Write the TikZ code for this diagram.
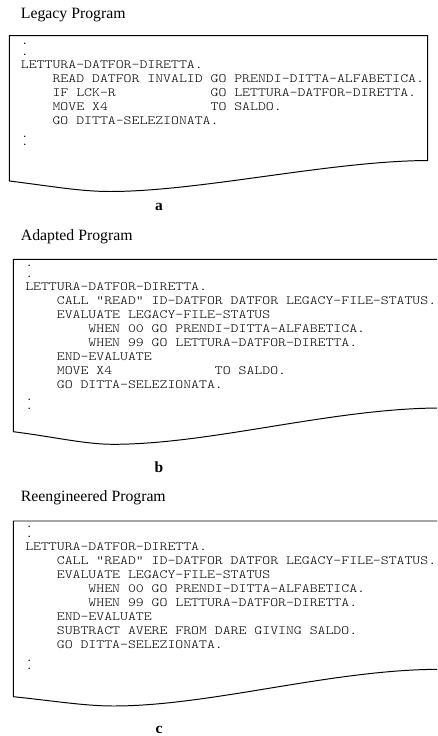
\documentclass[tikz,border=0pt]{standalone}
\usepackage{fontspec}
\setmainfont{Liberation Serif}
\newfontfamily\codefont{lmmonolt10-regular.otf}[FakeStretch=1.2]
\usepackage{tikz}
\newlength{\codecharwd}
\newcommand{\codesetup}{\codefont\fontsize{8.92}{9.96}\selectfont\frenchspacing\settowidth{\codecharwd}{M}\spaceskip=\codecharwd\relax}
\tikzset{
  progtitle/.style={anchor=base west, inner sep=0pt, font=\fontsize{11.2}{13}\selectfont},
  codetext/.style={anchor=base west, inner sep=0pt, font=\codesetup},
  panellabel/.style={anchor=base, inner sep=0pt, font=\fontsize{11}{13}\selectfont\bfseries},
  sheet/.style={line width=0.7pt, line join=miter}
}

\begin{document}
\begin{tikzpicture}[x=0.025cm, y=-0.025cm]
                    \useasboundingbox (0,0) rectangle (437,736);

                    % a
                    \node[progtitle] (legacytitle) at (20.7,18.3) {Legacy Program};
                    \draw[sheet] (9.3,35.7) -- (427.7,35.7) -- (427.7,160.5) .. controls (330,161) and (200,191.5) .. (110,191.5) .. controls (80,191.5) and (50,186) .. (9.3,181) -- cycle;
                    \node[codetext] (legacycode) at (20.7,44.7) {\begin{tabular}[t]{@{}l@{}}
                    .\\[-2.5pt]
                    .\\[-0.4pt]
                    LETTURA-DATFOR-DIRETTA.\\
                    ~~~~READ DATFOR INVALID GO PRENDI-DITTA-ALFABETICA.\\
                    ~~~~IF LCK-R~~~~~~~~~~~~GO LETTURA-DATFOR-DIRETTA.\\
                    ~~~~MOVE X4~~~~~~~~~~~~~TO SALDO.\\
                    ~~~~GO DITTA-SELEZIONATA.\\[-1.07pt]
                    .\\[-4.0pt]
                    .
                    \end{tabular}};
                    \node[panellabel] (labela) at (159,210.7) {a};

                    % b
                    \node[progtitle] (adaptedtitle) at (20.7,240) {Adapted Program};
                    \draw[sheet] (437,259.3) -- (13.3,259.3) -- (13.3,431.7) .. controls (55,437) and (85,444.3) .. (113.3,444.3) .. controls (210,444.3) and (330,409) .. (437,408);
                    \node[codetext] (adaptedcode) at (25,266.9) {\begin{tabular}[t]{@{}l@{}}
                    .\\[-2.5pt]
                    .\\[-0.71pt]
                    LETTURA-DATFOR-DIRETTA.\\
                    ~~~~CALL “READ” ID-DATFOR DATFOR LEGACY-FILE-STATUS.\\
                    ~~~~EVALUATE LEGACY-FILE-STATUS\\
                    ~~~~~~~~WHEN 00 GO PRENDI-DITTA-ALFABETICA.\\
                    ~~~~~~~~WHEN 99 GO LETTURA-DATFOR-DIRETTA.\\
                    ~~~~END-EVALUATE\\
                    ~~~~MOVE X4~~~~~~~~~~~~~TO SALDO.\\
                    ~~~~GO DITTA-SELEZIONATA.\\[-1.07pt]
                    .\\[-4.0pt]
                    .
                    \end{tabular}};
                    \node[panellabel] (labelb) at (159,472) {b};

                    % c
                    \node[progtitle] (reengtitle) at (20.7,501.7) {Reengineered Program};
                    \draw[sheet] (437,521) -- (13.3,521) -- (13.3,696.7) .. controls (55,701) and (85,706) .. (113.3,706) .. controls (210,706) and (330,670) .. (437,669.3);
                    \node[codetext] (reengcode) at (25,527.2) {\begin{tabular}[t]{@{}l@{}}
                    .\\[-2.5pt]
                    .\\[-0.71pt]
                    LETTURA-DATFOR-DIRETTA.\\
                    ~~~~CALL "READ" ID-DATFOR DATFOR LEGACY-FILE-STATUS.\\
                    ~~~~EVALUATE LEGACY-FILE-STATUS\\
                    ~~~~~~~~WHEN 00 GO PRENDI-DITTA-ALFABETICA.\\
                    ~~~~~~~~WHEN 99 GO LETTURA-DATFOR-DIRETTA.\\
                    ~~~~END-EVALUATE\\
                    ~~~~SUBTRACT AVERE FROM DARE GIVING SALDO.\\
                    ~~~~GO DITTA-SELEZIONATA.\\[-1.07pt]
                    .\\[-4.0pt]
                    .
                    \end{tabular}};
                    \node[panellabel] (labelc) at (159,733) {c};
                \end{tikzpicture}
\end{document}
